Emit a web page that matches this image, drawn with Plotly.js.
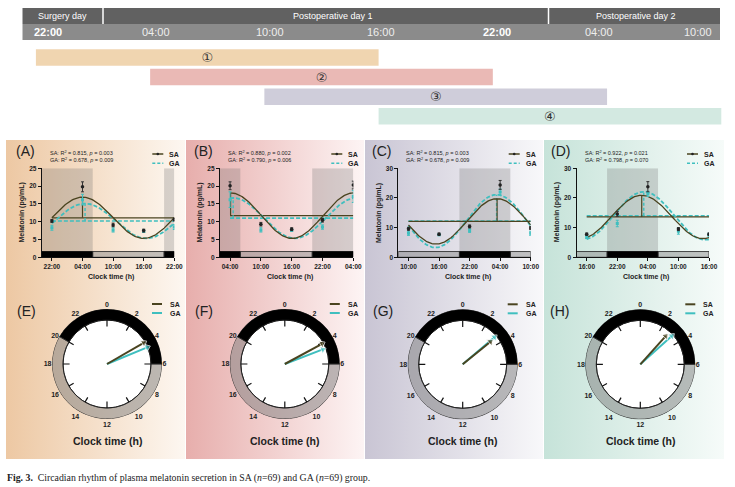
<!DOCTYPE html>
<html><head><meta charset="utf-8">
<script src="https://cdn.plot.ly/plotly-3.0.1.min.js"></script>
<style>html,body{margin:0;padding:0;background:#fff}#chart{width:735px;height:487px}</style>
</head><body><div id="chart"></div>
<script>
// ================= DATA =================
// Top timeline (hours after 22:00 on surgery day)
const windowLabels = ['①','②','③','④'];
const windowStart  = [0, 6, 12, 18];
const windowLength = [18, 18, 18, 18];
const windowColors = ['#f0d5b0','#eab9b5','#cfcdda','#d3e9e1'];
const dayLabels    = ['Surgery day','Postoperative day 1','Postoperative day 2'];
const headerTimes  = ['22:00','04:00','10:00','16:00','22:00','04:00','10:00'];

// Cosinor panels A-D
const panelLetters = ['(A)','(B)','(C)','(D)'];
const clockLetters = ['(E)','(F)','(G)','(H)'];
const startHour    = [22, 4, 10, 16];          // clock hour of first sample
const sampleT      = [0, 6, 12, 18, 24];       // hours after first sample
const lightsOff = 20, lightsOn = 6;            // dark phase 20:00-06:00
const ticksA = ['22:00','04:00','10:00','16:00','22:00'];
const ticksB = ['04:00','10:00','16:00','22:00','04:00'];
const ticksC = ['10:00','16:00','22:00','04:00','10:00'];
const ticksD = ['16:00','22:00','04:00','10:00','16:00'];

const saA = [10.2, 19.8, 9.1, 7.5, 10.6];  const saErrA = [0.4, 1.4, 0.5, 0.4, 0.4];
const gaA = [8.3, 16.2, 7.7, 7.3, 8.5];    const gaErrA = [0.7, 1.5, 0.6, 0.3, 0.7];
const saB = [20.1, 9.3, 7.9, 10.4, 20.3];  const saErrB = [1.1, 0.5, 0.4, 0.5, 1.1];
const gaB = [16.2, 7.7, 7.6, 8.5, 17.1];   const gaErrB = [2.2, 0.6, 0.3, 0.6, 1.7];
const saC = [9.6, 7.8, 10.4, 24.4, 9.9];   const saErrC = [0.5, 0.4, 0.5, 1.5, 0.5];
const gaC = [8.1, 7.6, 9.0, 22.0, 8.1];    const gaErrC = [0.7, 0.3, 0.6, 1.0, 0.7];
const saD = [7.8, 14.6, 23.8, 9.5, 7.8];   const saErrD = [0.4, 0.8, 1.7, 0.5, 0.4];
const gaD = [6.8, 11.4, 21.4, 8.8, 7.6];   const gaErrD = [0.5, 1.1, 0.9, 1.0, 0.5];

// Cosinor fit parameters (MESOR, amplitude, acrophase clock hour)
const mesorSA = [11.1, 11.7, 12.1, 13.6];
const ampSA   = [5.8, 6.4, 7.65, 7.3];
const acroSA  = [4.0, 4.1, 3.4, 2.8];
const mesorGA = [10.2, 11.0, 12.2, 14.0];
const ampGA   = [4.9, 5.7, 8.9, 8.1];
const acroGA  = [4.5, 4.6, 3.3, 3.2];
const r2SA = ['0.815','0.880','0.815','0.922']; const pSA = ['0.003','0.002','0.003','0.021'];
const r2GA = ['0.678','0.790','0.678','0.798']; const pGA = ['0.009','0.006','0.009','0.070'];
const yMax = [25, 25, 30, 30];

// Clock vectors (relative length of arrow)
const vecSA = [0.77, 0.77, 0.65, 0.69];
const vecGA = [0.79, 0.74, 0.76, 0.77];
const clockHours = [0,2,4,6,8,10,12,14,16,18,20,22];

// ================= STYLE / LAYOUT =================
const W = 735, H = 487;
const px = x => x / W, py = y => 1 - y / H;
const FONT = 'Liberation Sans, Arial, sans-serif';
const SA_C = '#4a4420', GA_C = '#3fbfbf', TXT = '#222';
const sa = [saA, saB, saC, saD], saErr = [saErrA, saErrB, saErrC, saErrD];
const ga = [gaA, gaB, gaC, gaD], gaErr = [gaErrA, gaErrB, gaErrC, gaErrD];
const ticks = [ticksA, ticksB, ticksC, ticksD];
const plotX = [[41.7,174.3],[219.8,353.3],[398.3,530.7],[576.5,709]];
const plotY = [168.3, 257.3];
const clockC = [[107,364],[284.8,364],[462.7,364.3],[640.3,364.3]];
const R = 55;
const bgX = [[6,185],[186,364],[365,543],[544,724]];
const bgCols = [['#edc8a3','#fdf7f1'],['#e7aeac','#fdf4f4'],['#c9c5d4','#f8f8fa'],['#c6e3d9','#f6fbf9']];

const traces = [], shapes = [], annotations = [];
const layout = {
  width: W, height: H, margin: {l:0,r:0,t:0,b:0},
  paper_bgcolor: '#fff', plot_bgcolor: 'rgba(0,0,0,0)', showlegend: false,
  font: {family: FONT, color: TXT},
  uniformtext: {mode:'show', minsize:13},
  xaxis: {domain:[0,1], range:[0,W], visible:false, fixedrange:true},
  yaxis: {domain:[0,1], range:[H,0], visible:false, fixedrange:true},
  shapes, annotations
};

// background gradients for the four columns
bgX.forEach((b,i)=>{
  traces.push({type:'scatter', xaxis:'x', yaxis:'y', x:[b[0],b[1],b[1],b[0],b[0]], y:[140,140,459,459,140],
    mode:'lines', line:{width:0}, fill:'toself', fillcolor:bgCols[i][0],
    fillgradient:{type:'horizontal', colorscale:[[0,bgCols[i][0]],[1,bgCols[i][1]]]}, hoverinfo:'skip'});
});

// ---- header ----
shapes.push({type:'rect', xref:'paper', yref:'paper', x0:px(22.5), x1:px(720), y0:py(24), y1:py(8), fillcolor:'#616161', line:{width:0}, layer:'below'});
shapes.push({type:'rect', xref:'paper', yref:'paper', x0:px(22.5), x1:px(720), y0:py(40), y1:py(24), fillcolor:'#8b8b8b', line:{width:0}, layer:'below'});
[103, 548.5].forEach(x=>shapes.push({type:'line', xref:'paper', yref:'paper', x0:px(x), x1:px(x), y0:py(24), y1:py(8), line:{color:'#fff', width:1.5}}));
const dayX = [62.8, 333, 636];
dayLabels.forEach((t,i)=>annotations.push({xref:'paper', yref:'paper', x:px(dayX[i]), y:py(16), text:t, showarrow:false,
  font:{size:9, color:'#fff', family:FONT}, xanchor:'center', yanchor:'middle'}));
const htX = [48, 156, 270, 381, 497, 599, 698];
headerTimes.forEach((t,i)=>{
  const bold = (i===0 || i===4);
  annotations.push({xref:'paper', yref:'paper', x:px(htX[i]), y:py(32.5), text: bold?('<b>'+t+'</b>'):t, showarrow:false,
    font:{size:11, color: bold?'#fff':'#eeeeee', family:FONT}, xanchor:'center', yanchor:'middle'});
});
// timeline bars
traces.push({type:'bar', orientation:'h', xaxis:'x2', yaxis:'y2', y:[1,2,3,4], x:windowLength, base:windowStart,
  width:0.84, marker:{color:windowColors, line:{width:0}}, text:windowLabels, textposition:'inside',
  insidetextanchor:'middle', textangle:0, constraintext:'none', cliponaxis:false,
  textfont:{size:13, color:'#333', family:'DejaVu Sans, Noto Sans CJK SC'}, hoverinfo:'skip'});
layout.xaxis2 = {domain:[0,1], range:[-1.886, 36.72], visible:false, fixedrange:true};
layout.yaxis2 = {domain:[py(126.1), py(47.7)], range:[4.5,0.5], visible:false, fixedrange:true};

// ---- cosinor panels ----
const tt = []; for (let t=0; t<=24.0001; t+=0.2) tt.push(+t.toFixed(2));
function cosCurve(m,a,acT){ return tt.map(t => m + a*Math.cos(2*Math.PI*(t-acT)/24)); }
const mod24 = h => ((h%24)+24)%24;

for (let i=0;i<4;i++){
  const k = i+3, xa='x'+k, ya='y'+k;
  const tSA = mod24(acroSA[i]-startHour[i]), tGA = mod24(acroGA[i]-startHour[i]);
  // fitted curves
  traces.push({type:'scatter', xaxis:xa, yaxis:ya, x:[0,24], y:[mesorGA[i],mesorGA[i]], mode:'lines', line:{color:GA_C, width:1.6, dash:'4px,2px'}, hoverinfo:'skip'});
  traces.push({type:'scatter', xaxis:xa, yaxis:ya, x:[0,24], y:[mesorSA[i],mesorSA[i]], mode:'lines', line:{color:SA_C, width:1.2}, hoverinfo:'skip'});
  traces.push({type:'scatter', xaxis:xa, yaxis:ya, x:[tGA,tGA], y:[mesorGA[i],mesorGA[i]+ampGA[i]], mode:'lines', line:{color:GA_C, width:1.4, dash:'3px,2px'}, hoverinfo:'skip'});
  traces.push({type:'scatter', xaxis:xa, yaxis:ya, x:[tSA,tSA], y:[mesorSA[i],mesorSA[i]+ampSA[i]], mode:'lines', line:{color:SA_C, width:1.2}, hoverinfo:'skip'});
  traces.push({type:'scatter', xaxis:xa, yaxis:ya, x:tt, y:cosCurve(mesorGA[i],ampGA[i],tGA), mode:'lines', line:{color:GA_C, width:1.8, dash:'4px,2px'}, hoverinfo:'skip'});
  traces.push({type:'scatter', xaxis:xa, yaxis:ya, x:tt, y:cosCurve(mesorSA[i],ampSA[i],tSA), mode:'lines', line:{color:SA_C, width:1.3}, hoverinfo:'skip'});
  // measured points
  traces.push({type:'scatter', xaxis:xa, yaxis:ya, x:sampleT, y:ga[i], mode:'markers', marker:{symbol:'square', size:3, color:GA_C},
    error_y:{type:'data', array:gaErr[i], color:GA_C, thickness:1, width:1.5}, hoverinfo:'skip'});
  traces.push({type:'scatter', xaxis:xa, yaxis:ya, x:sampleT, y:sa[i], mode:'markers', marker:{symbol:'circle', size:3.5, color:'#222'},
    error_y:{type:'data', array:saErr[i], color:'#333', thickness:1, width:1.5}, hoverinfo:'skip'});

  layout['xaxis'+k] = {domain:[px(plotX[i][0]), px(plotX[i][1])], anchor:ya, range:[-2,24], showgrid:false, zeroline:false,
    showline:true, linecolor:'#111', linewidth:1, ticks:'outside', ticklen:3, tickwidth:1, tickcolor:'#111',
    tickmode:'array', tickvals:sampleT, ticktext:ticks[i], tickfont:{size:6.5, weight:'bold', color:TXT}, fixedrange:true};
  layout['yaxis'+k] = {domain:[py(plotY[1]), py(plotY[0])], anchor:xa, range:[0,yMax[i]], dtick:yMax[i]===25?5:10,
    showgrid:false, zeroline:false, showline:true, linecolor:'#111', linewidth:1, ticks:'outside', ticklen:3, tickwidth:1, tickcolor:'#111',
    tickfont:{size:6.5, weight:'bold', color:TXT}, fixedrange:true};
  // axis titles
  annotations.push({xref:'paper', yref:'paper', x:px((plotX[i][0]+plotX[i][1])/2+3), y:py(277), text:'<b>Clock time (h)</b>', showarrow:false, xanchor:'center', yanchor:'middle', font:{size:7, color:TXT}});
  annotations.push({xref:'paper', yref:'paper', x:px(plotX[i][0]-20), y:py((plotY[0]+plotY[1])/2), text:'<b>Melatonin (pg/mL)</b>', textangle:-90, showarrow:false, xanchor:'center', yanchor:'middle', font:{size:7, color:TXT}});

  // dark/light schedule
  const a = mod24(lightsOff-startHour[i]), b = mod24(lightsOn-startHour[i]);
  const dark = a<b ? [[a,b]] : [[-2,b],[a,24]];
  const light = a<b ? [[-2,a],[b,24]] : [[b,a]];
  const ldH = yMax[i]*0.065;
  dark.forEach(d=>{
    shapes.push({type:'rect', xref:xa, yref:ya, x0:d[0], x1:d[1], y0:ldH, y1:yMax[i], fillcolor:'rgba(110,110,110,0.27)', line:{width:0}, layer:'below'});
    shapes.push({type:'rect', xref:xa, yref:ya, x0:d[0], x1:d[1], y0:0, y1:ldH, fillcolor:'#000', line:{color:'#000', width:0.8}, layer:'below'});
  });
  light.forEach(d=>{
    shapes.push({type:'rect', xref:xa, yref:ya, x0:d[0], x1:d[1], y0:0, y1:ldH, fillcolor:'rgba(140,140,140,0.5)', line:{color:'#222', width:0.8}, layer:'below'});
  });

  // legend
  const Rr = plotX[i][1];
  shapes.push({type:'line', xref:'paper', yref:'paper', x0:px(Rr-22), x1:px(Rr-11), y0:py(154), y1:py(154), line:{color:SA_C, width:1.5}});
  shapes.push({type:'circle', xref:'paper', yref:'paper', x0:px(Rr-17.8), x1:px(Rr-15.2), y0:py(155.3), y1:py(152.7), fillcolor:'#222', line:{width:0}});
  shapes.push({type:'line', xref:'paper', yref:'paper', x0:px(Rr-22), x1:px(Rr-11), y0:py(163.3), y1:py(163.3), line:{color:GA_C, width:1.6, dash:'3px,2px'}});
  annotations.push({xref:'paper', yref:'paper', x:px(Rr-7), y:py(154), text:'<b>SA</b>', showarrow:false, xanchor:'left', yanchor:'middle', font:{size:7, color:TXT}});
  annotations.push({xref:'paper', yref:'paper', x:px(Rr-7), y:py(163.3), text:'<b>GA</b>', showarrow:false, xanchor:'left', yanchor:'middle', font:{size:7, color:TXT}});
  // stats text
  const L = plotX[i][0];
  annotations.push({xref:'paper', yref:'paper', x:px(L+6), y:py(153.3), text:'SA: R<sup>2</sup> = '+r2SA[i]+', <i>p</i> = '+pSA[i], showarrow:false, xanchor:'left', yanchor:'middle', font:{size:5.5, color:TXT}});
  annotations.push({xref:'paper', yref:'paper', x:px(L+6), y:py(160.3), text:'GA: R<sup>2</sup> = '+r2GA[i]+', <i>p</i> = '+pGA[i], showarrow:false, xanchor:'left', yanchor:'middle', font:{size:5.5, color:TXT}});
  annotations.push({xref:'paper', yref:'paper', x:px(L-28), y:py(151), text:panelLetters[i], showarrow:false, xanchor:'left', yanchor:'middle', font:{size:14, color:TXT}});

  // ---- clock ----
  const pid = i===0 ? 'polar' : 'polar'+(i+1);
  const [cx, cy] = clockC[i];
  layout[pid] = {domain:{x:[px(cx-R), px(cx+R)], y:[py(cy+R), py(cy-R)]}, bgcolor:'rgba(0,0,0,0)',
    radialaxis:{range:[0,1], visible:false, showgrid:false},
    angularaxis:{rotation:90, direction:'clockwise', tickmode:'array', tickvals:clockHours.map(h=>h*15), ticktext:clockHours.map(String),
      showgrid:false, showline:false, ticks:'', tickfont:{size:7, weight:'bold', color:TXT}}};
  traces.push({type:'barpolar', subplot:pid, r:[0.8], base:[0], theta:[180], width:[360], marker:{color:'#fff', line:{color:'#111', width:1}}, hoverinfo:'skip'});
  const darkW = mod24(lightsOn-lightsOff)*15, lightW = 360-darkW;
  traces.push({type:'barpolar', subplot:pid, r:[0.2,0.2], base:[0.8,0.8],
    theta:[lightsOff*15+darkW/2, lightsOn*15+lightW/2], width:[darkW, lightW],
    marker:{color:['#000','rgba(125,125,125,0.5)'], line:{color:'#222', width:0.8}}, hoverinfo:'skip'});
  const tr=[], tth=[];
  clockHours.forEach(h=>{ tr.push(0.8, (h%6===0)?0.68:0.7, null); tth.push(h*15, h*15, null); });
  traces.push({type:'scatterpolar', subplot:pid, r:tr, theta:tth, mode:'lines', line:{color:'#111', width:1.2}, hoverinfo:'skip'});
  [[acroGA[i],vecGA[i],GA_C],[acroSA[i],vecSA[i],SA_C]].forEach(([h,l,c])=>{
    traces.push({type:'scatterpolar', subplot:pid, r:[0,l], theta:[h*15,h*15], mode:'lines+markers', line:{color:c, width:2},
      marker:{symbol:'triangle-up', size:[0,7], angle:[0,h*15], color:c}, hoverinfo:'skip'});
  });
  // clock legend and titles
  shapes.push({type:'line', xref:'paper', yref:'paper', x0:px(cx+45), x1:px(cx+55), y0:py(cy-60), y1:py(cy-60), line:{color:SA_C, width:2}});
  shapes.push({type:'line', xref:'paper', yref:'paper', x0:px(cx+45), x1:px(cx+55), y0:py(cy-51), y1:py(cy-51), line:{color:GA_C, width:2}});
  annotations.push({xref:'paper', yref:'paper', x:px(cx+61), y:py(cy-60), text:'<b>SA</b>', showarrow:false, xanchor:'left', yanchor:'middle', font:{size:7, color:TXT}});
  annotations.push({xref:'paper', yref:'paper', x:px(cx+61), y:py(cy-51), text:'<b>GA</b>', showarrow:false, xanchor:'left', yanchor:'middle', font:{size:7, color:TXT}});
  annotations.push({xref:'paper', yref:'paper', x:px(cx), y:py(441), text:'<b>Clock time (h)</b>', showarrow:false, xanchor:'center', yanchor:'middle', font:{size:10.5, color:TXT}});
  annotations.push({xref:'paper', yref:'paper', x:px(cx-92), y:py(311), text:clockLetters[i], showarrow:false, xanchor:'left', yanchor:'middle', font:{size:14, color:TXT}});
}

// caption
annotations.push({xref:'paper', yref:'paper', x:px(5), y:py(478), xanchor:'left', yanchor:'middle', showarrow:false,
  text:'<b>Fig. 3.</b>  Circadian rhythm of plasma melatonin secretion in SA (<i>n</i>=69) and GA (<i>n</i>=69) group.',
  font:{size:9.8, family:'Liberation Serif, serif', color:'#222'}});

Plotly.newPlot('chart', traces, layout, {staticPlot:true, displayModeBar:false});
</script></body></html>
